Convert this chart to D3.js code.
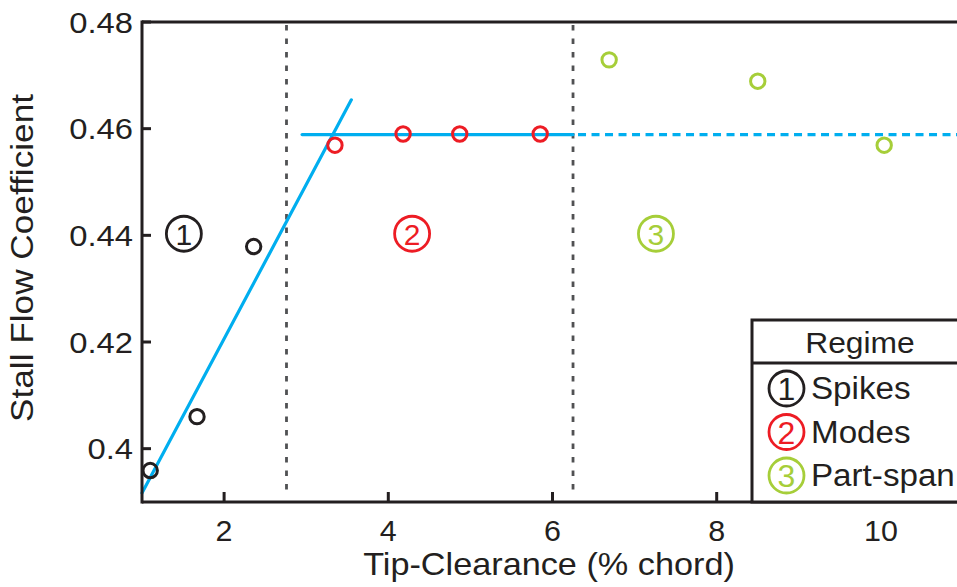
<!DOCTYPE html>
<html><head><meta charset="utf-8">
<script src="https://cdn.jsdelivr.net/npm/d3@7"></script>
<style>
html,body{margin:0;padding:0;background:#fff;overflow:hidden}
text{font-family:"Liberation Sans",Arial,sans-serif;fill:#231F20}
</style></head>
<body><svg id="c" width="957" height="587"></svg>
<script>
// ---- data ----
const xTicks = [2, 4, 6, 8, 10];
const yTicks = [0.40, 0.42, 0.44, 0.46, 0.48];
const yTickLabels = ["0.4", "0.42", "0.44", "0.46", "0.48"];
const spikesX = [1.10, 1.67, 2.36];
const spikesY = [0.3959, 0.4060, 0.4379];
const modesX = [3.35, 4.18, 4.87, 5.85];
const modesY = [0.4569, 0.4590, 0.4590, 0.4590];
const partX = [6.69, 8.50, 10.04];
const partY = [0.4729, 0.4689, 0.4569];
const boundaries = [2.76, 6.25];
const slopeX = [1.0, 3.55];
const slopeY = [0.3917, 0.4654];
const plateauY = 0.4589;
const plateauSolidX = [2.95, 6.25];
const plateauDashX = [6.25, 11.2];
const regimeNums = ["1", "2", "3"];
const regimeNames = ["Spikes", "Modes", "Part-span"];
const regimeLabelX = [1.51, 4.29, 7.26];
const regimeLabelY = 0.4403;
const colors = ["#231F20", "#ED1C24", "#A6CE39"];
const blue = "#00AEEF";

const svg = d3.select("#c");
const L = 142, R = 963, T = 22, B = 502;
const x = d3.scaleLinear().domain([1, 11]).range([L, R]);
const y = d3.scaleLinear().domain([0.39, 0.48]).range([B, T]);

function stretch(sel, f) {
  sel.each(function () {
    const w = this.getComputedTextLength();
    d3.select(this).attr("textLength", w * f).attr("lengthAdjust", "spacingAndGlyphs");
  });
}

// boundaries
svg.selectAll(".bd").data(boundaries).join("line")
  .attr("x1", d => x(d)).attr("x2", d => x(d)).attr("y1", T + 3).attr("y2", B - 8)
  .attr("stroke", "#505153").attr("stroke-width", 2.8)
  .attr("stroke-dasharray", "5.5 8").attr("stroke-linecap", "butt");

const line = d3.line().x(d => x(d[0])).y(d => y(d[1]));
// slope fit
svg.append("path").datum(slopeX.map((v, i) => [v, slopeY[i]])).attr("d", line)
  .attr("stroke", blue).attr("stroke-width", 3.2).attr("fill", "none").attr("stroke-linecap", "round");
// plateau solid
svg.append("path").datum(plateauSolidX.map(v => [v, plateauY])).attr("d", line)
  .attr("stroke", blue).attr("stroke-width", 3.2).attr("fill", "none").attr("stroke-linecap", "round");
// plateau dashed
svg.append("path").datum(plateauDashX.map(v => [v, plateauY])).attr("d", line)
  .attr("stroke", blue).attr("stroke-width", 3.2).attr("fill", "none")
  .attr("stroke-dasharray", "8 5.5").attr("stroke-dashoffset", -5);

// points
const series = [[spikesX, spikesY], [modesX, modesY], [partX, partY]];
series.forEach((s, k) => {
  svg.append("g").selectAll("circle").data(s[0].map((v, i) => [v, s[1][i]])).join("circle")
    .attr("cx", d => x(d[0])).attr("cy", d => y(d[1])).attr("r", 7.2)
    .attr("fill", "none").attr("stroke", colors[k]).attr("stroke-width", 3);
});

// regime annotations
regimeNums.forEach((n, k) => {
  const g = svg.append("g").attr("transform", `translate(${x(regimeLabelX[k])},${y(regimeLabelY)})`);
  g.append("circle").attr("r", 17.5).attr("fill", "none").attr("stroke", colors[k]).attr("stroke-width", 2.8);
  g.append("text").attr("text-anchor", "middle").attr("y", 11).attr("font-size", 30)
    .style("fill", colors[k]).text(n);
});

// axes
const ax = svg.append("g").attr("stroke", "#231F20").attr("stroke-width", 3).attr("fill", "none");
ax.append("line").attr("x1", L).attr("x2", L).attr("y1", T - 1.5).attr("y2", B + 1.5);
ax.append("line").attr("x1", L).attr("x2", 957).attr("y1", T).attr("y2", T);
ax.append("line").attr("x1", L).attr("x2", 957).attr("y1", B).attr("y2", B);
ax.selectAll(".xt").data(xTicks).join("line")
  .attr("x1", d => x(d)).attr("x2", d => x(d)).attr("y1", B).attr("y2", B - 10);
ax.selectAll(".yt").data(yTicks).join("line")
  .attr("x1", L).attr("x2", L + 9).attr("y1", d => y(d)).attr("y2", d => y(d));

svg.append("g").selectAll("text").data(xTicks).join("text")
  .attr("x", d => x(d)).attr("y", 541).attr("text-anchor", "middle").attr("font-size", 29)
  .text(d => d).call(stretch, 1.05);
svg.append("g").selectAll("text").data(yTicks).join("text")
  .attr("x", 133).attr("y", d => y(d) + 10.5).attr("text-anchor", "end").attr("font-size", 29)
  .text((d, i) => yTickLabels[i]).call(stretch, 1.13);

svg.append("text").attr("x", 549).attr("y", 575).attr("text-anchor", "middle").attr("font-size", 32)
  .text("Tip-Clearance (% chord)").call(stretch, 1.07);
svg.append("text").attr("transform", "translate(33,258) rotate(-90)").attr("text-anchor", "middle")
  .attr("font-size", 32).text("Stall Flow Coefficient").call(stretch, 1.1);

// legend
const lg = svg.append("g");
lg.append("rect").attr("x", 752).attr("y", 320).attr("width", 260).attr("height", B - 320)
  .attr("fill", "#fff").attr("stroke", "#231F20").attr("stroke-width", 3);
lg.append("line").attr("x1", 752).attr("x2", 957).attr("y1", 363).attr("y2", 363)
  .attr("stroke", "#231F20").attr("stroke-width", 3);
lg.append("text").attr("x", 860).attr("y", 353).attr("text-anchor", "middle").attr("font-size", 30)
  .text("Regime").call(stretch, 1.06);
regimeNames.forEach((nm, k) => {
  const cy = 388.5 + k * 43.5;
  lg.append("circle").attr("cx", 786.5).attr("cy", cy).attr("r", 17.5)
    .attr("fill", "none").attr("stroke", colors[k]).attr("stroke-width", 2.8);
  lg.append("text").attr("x", 786.5).attr("y", cy + 11.5).attr("text-anchor", "middle").attr("font-size", 32)
    .style("fill", colors[k]).text(regimeNums[k]);
  lg.append("text").attr("x", 811).attr("y", cy + 10.5).attr("font-size", 31).text(nm).call(stretch, 1.07);
});
</script></body></html>
